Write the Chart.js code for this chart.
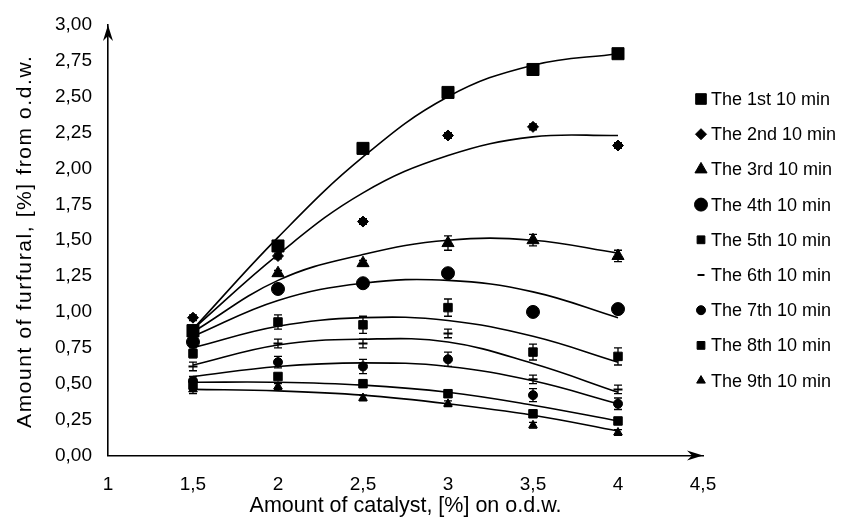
<!DOCTYPE html>
<html>
<head>
<meta charset="utf-8">
<title>Amount of furfural vs amount of catalyst</title>
<script src="https://cdn.jsdelivr.net/npm/chart.js@4.4.1/dist/chart.umd.min.js"></script>
<style>
  html, body { margin: 0; padding: 0; background: #fff; }
  #wrap { width: 841px; height: 523px; position: relative; }
</style>
</head>
<body>
<div id="wrap"><canvas id="furfuralChart"></canvas></div>
<script>
// ===============================
// DATA
// ===============================
const catalyst = [1.5, 2, 2.5, 3, 3.5, 4];
const xTicks = [1, 1.5, 2, 2.5, 3, 3.5, 4, 4.5];
const yTicks = [0, 0.25, 0.5, 0.75, 1, 1.25, 1.5, 1.75, 2, 2.25, 2.5, 2.75, 3];

const seriesNames = [
  "The 1st 10 min",
  "The 2nd 10 min",
  "The 3rd 10 min",
  "The 4th 10 min",
  "The 5th 10 min",
  "The 6th 10 min",
  "The 7th 10 min",
  "The 8th 10 min",
  "The 9th 10 min",
];

// measured points
const min1 = [0.87, 1.46, 2.14, 2.53, 2.69, 2.8];
const min2 = [0.96, 1.39, 1.63, 2.23, 2.29, 2.16];
const min3 = [0.85, 1.27, 1.34, 1.48, 1.5, 1.39];
const min4 = [0.79, 1.16, 1.2, 1.27, 1.0, 1.02];
const min5 = [0.71, 0.93, 0.91, 1.03, 0.72, 0.69];
const min6 = [0.62, 0.78, 0.78, 0.85, 0.53, 0.46];
const min7 = [0.52, 0.65, 0.62, 0.67, 0.42, 0.36];
const min8 = [0.49, 0.55, 0.5, 0.43, 0.29, 0.24];
const min9 = [0.46, 0.48, 0.4, 0.36, 0.21, 0.16];

// error bars (+/-)
const err1 = [0.03, 0.02, 0.03, 0.03, 0.02, 0.03];
const err2 = [0.02, 0.02, 0.02, 0.02, 0.02, 0.02];
const err3 = [0.02, 0.02, 0.02, 0.05, 0.04, 0.04];
const err4 = [0.02, 0.02, 0.02, 0.03, 0.02, 0.02];
const err5 = [0.03, 0.05, 0.06, 0.06, 0.055, 0.06];
const err6 = [0.03, 0.03, 0.03, 0.03, 0.03, 0.03];
const err7 = [0.03, 0.04, 0.05, 0.05, 0.045, 0.04];
const err8 = [0.03, 0.02, 0.02, 0.02, 0.02, 0.02];
const err9 = [0.03, 0.02, 0.02, 0.02, 0.02, 0.02];

// trend curves as drawn in the picture
const fit1 = [0.88, 1.52, 2.08, 2.5, 2.72, 2.8];
const fit2 = [0.88, 1.4, 1.83, 2.09, 2.22, 2.23];
const fit3 = [0.86, 1.22, 1.4, 1.5, 1.5, 1.41];
const fit4 = [0.83, 1.08, 1.2, 1.22, 1.14, 0.96];
const fit5 = [0.75, 0.9, 0.96, 0.94, 0.83, 0.65];
const fit6 = [0.63, 0.77, 0.81, 0.79, 0.64, 0.44];
const fit7 = [0.55, 0.62, 0.645, 0.62, 0.52, 0.36];
const fit8 = [0.51, 0.51, 0.49, 0.44, 0.35, 0.24];
const fit9 = [0.46, 0.45, 0.42, 0.36, 0.28, 0.17];

const puntos = [min1, min2, min3, min4, min5, min6, min7, min8, min9];
const errores = [err1, err2, err3, err4, err5, err6, err7, err8, err9];
const curvas = [fit1, fit2, fit3, fit4, fit5, fit6, fit7, fit8, fit9];

// marker look for each series
const estilos = ["rect", "rectRot", "triangle", "circle", "rect", "line", "circle", "rect", "triangle"];
const radios = [8.5, 5.5, 7, 6.5, 6, 4.5, 4.5, 6, 5];
const radiosLeyenda = [7.5, 5.5, 7, 6.5, 5.5, 3.5, 4.5, 5.5, 5];

const FONT = '"Liberation Sans", Arial, sans-serif';
const Y_TITLE = "Amount of furfural, [%] from o.d.w.";
const coma = (v, d) => (d ? v.toFixed(d) : String(v)).replace(".", ",");

// ===============================
// PLUGINS
// ===============================
const flechasEjes = {
  id: "flechasEjes",
  afterDraw(chart) {
    const { ctx, scales: { x, y } } = chart;
    const x0 = x.getPixelForValue(1);
    const y0 = y.getPixelForValue(0);
    const xEnd = x.getPixelForValue(4.5);
    const yEnd = y.getPixelForValue(3);
    ctx.save();
    ctx.fillStyle = "#000";
    // flecha derecha
    ctx.beginPath();
    ctx.moveTo(xEnd, y0);
    ctx.lineTo(xEnd - 16, y0 - 5);
    ctx.lineTo(xEnd - 11, y0);
    ctx.lineTo(xEnd - 16, y0 + 5);
    ctx.closePath();
    ctx.fill();
    // flecha arriba
    ctx.beginPath();
    ctx.moveTo(x0, yEnd);
    ctx.lineTo(x0 - 5, yEnd + 16);
    ctx.lineTo(x0, yEnd + 11);
    ctx.lineTo(x0 + 5, yEnd + 16);
    ctx.closePath();
    ctx.fill();
    ctx.restore();
  },
};

const barrasError = {
  id: "barrasError",
  afterDatasetsDraw(chart) {
    const { ctx, scales: { y } } = chart;
    ctx.save();
    ctx.strokeStyle = "#000";
    ctx.lineWidth = 1.3;
    chart.data.datasets.forEach((ds, i) => {
      if (!ds.errores) return;
      const meta = chart.getDatasetMeta(i);
      meta.data.forEach((pt, j) => {
        const v = ds.data[j].y;
        const e = ds.errores[j];
        const top = y.getPixelForValue(v + e);
        const bot = y.getPixelForValue(v - e);
        ctx.beginPath();
        ctx.moveTo(pt.x, top);
        ctx.lineTo(pt.x, bot);
        ctx.moveTo(pt.x - 4, top);
        ctx.lineTo(pt.x + 4, top);
        ctx.moveTo(pt.x - 4, bot);
        ctx.lineTo(pt.x + 4, bot);
        ctx.stroke();
      });
    });
    ctx.restore();
  },
};

// titulo del eje Y (texto algo espaciado, como en la figura)
const tituloY = {
  id: "tituloY",
  afterDraw(chart) {
    const { ctx, chartArea } = chart;
    ctx.save();
    ctx.translate(25, (chartArea.top + chartArea.bottom) / 2 + 1);
    ctx.rotate(-Math.PI / 2);
    ctx.fillStyle = "#000";
    ctx.font = "21px " + FONT;
    ctx.letterSpacing = "1.6px";
    ctx.textAlign = "center";
    ctx.textBaseline = "middle";
    ctx.fillText(Y_TITLE, 0, 0);
    ctx.restore();
  },
};

const leyenda = {
  id: "leyenda",
  afterDraw(chart) {
    const { ctx } = chart;
    ctx.save();
    ctx.fillStyle = "#000";
    ctx.strokeStyle = "#000";
    ctx.font = "18px " + FONT;
    ctx.textBaseline = "middle";
    ctx.textAlign = "left";
    seriesNames.forEach((nombre, i) => {
      const ly = 99 + i * 35.2;
      ctx.lineWidth = estilos[i] === "line" ? 2 : 1;
      Chart.helpers.drawPoint(
        ctx,
        { pointStyle: estilos[i], radius: radiosLeyenda[i], borderWidth: ctx.lineWidth, rotation: 0 },
        701,
        ly
      );
      ctx.fillStyle = "#000";
      ctx.fillText(nombre, 711, ly + 1);
    });
    ctx.restore();
  },
};

// ===============================
// CHART
// ===============================
const datasets = [];
seriesNames.forEach((nombre, i) => {
  datasets.push({
    label: nombre + " trend",
    data: catalyst.map((x, j) => ({ x, y: curvas[i][j] })),
    showLine: true,
    tension: 0.4,
    borderColor: "#000",
    borderWidth: 1.6,
    pointRadius: 0,
    fill: false,
  });
});
seriesNames.forEach((nombre, i) => {
  datasets.push({
    label: nombre,
    data: catalyst.map((x, j) => ({ x, y: puntos[i][j] })),
    showLine: false,
    errores: errores[i],
    pointStyle: estilos[i],
    pointRadius: radios[i],
    pointBackgroundColor: "#000",
    pointBorderColor: "#000",
    pointBorderWidth: estilos[i] === "line" ? 2 : 1,
  });
});

new Chart(document.getElementById("furfuralChart"), {
  type: "scatter",
  data: { datasets },
  options: {
    responsive: true,
    maintainAspectRatio: false,
    animation: false,
    layout: { padding: { left: 47, right: 138, top: 25, bottom: 4 } },
    plugins: { legend: { display: false }, tooltip: { enabled: false } },
    scales: {
      x: {
        type: "linear",
        min: 1,
        max: 4.5,
        afterBuildTicks: (s) => { s.ticks = xTicks.map((v) => ({ value: v })); },
        grid: { display: false },
        border: { color: "#000", width: 1.6 },
        ticks: {
          padding: 9.5,
          color: "#000",
          font: { family: FONT, size: 19, lineHeight: 1.2 },
          callback: (v) => coma(v),
        },
        title: {
          display: true,
          text: "Amount of catalyst, [%] on o.d.w.",
          color: "#000",
          font: { family: FONT, size: 21.5, lineHeight: 1.2 },
          padding: { top: -12, bottom: 0 },
        },
      },
      y: {
        type: "linear",
        min: 0,
        max: 3,
        afterBuildTicks: (s) => { s.ticks = yTicks.map((v) => ({ value: v })); },
        grid: { display: false },
        border: { color: "#000", width: 1.6 },
        ticks: {
          padding: 8,
          color: "#000",
          font: { family: FONT, size: 19 },
          callback: (v) => coma(v, 2),
        },
      },
    },
  },
  plugins: [barrasError, flechasEjes, tituloY, leyenda],
});
</script>
</body>
</html>
